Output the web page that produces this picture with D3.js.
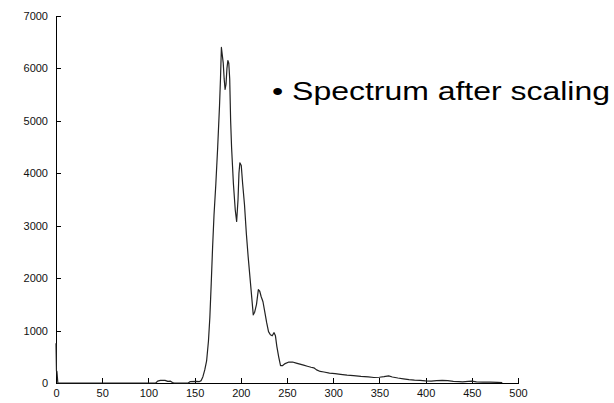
<!DOCTYPE html>
<html>
<head>
<meta charset="utf-8">
<script src="https://cdn.jsdelivr.net/npm/d3@7"></script>
<style>
  html, body { margin: 0; padding: 0; background: #fff; }
  svg { display: block; }
  .axis text { font-family: Arial, "Liberation Sans", sans-serif; font-size: 11px; fill: #111; }
  .axis path, .axis line { stroke: #000; stroke-width: 1; shape-rendering: crispEdges; }
</style>
</head>
<body>
<svg id="chart" width="614" height="403"></svg>
<script>
// Channel positions of the scaled spectrum
const channels = [
  0, 0.5, 1, 2, 108, 110, 113, 118, 121, 124, 126, 128, 143, 145, 152, 155,
  157, 159, 161, 163, 165, 166.5, 168, 169.5, 171, 173, 175, 177, 178, 179,
  180, 181, 182, 183, 184, 185, 186, 187, 188, 189, 190, 192, 194, 195.5,
  197, 198, 199, 200.5, 202, 204, 206, 208, 210, 212, 213.5, 215, 217, 219,
  220.5, 222, 224, 226, 228, 230, 232, 234, 236, 237.5, 239, 241, 243, 245,
  248, 252, 256, 260, 264, 268, 272, 276, 279, 282, 286, 290, 296, 302, 308,
  315, 322, 330, 338, 344, 350, 355, 360, 364, 370, 376, 382, 388, 394, 400,
  406, 412, 418, 424, 430, 436, 440, 446, 450, 455, 462, 470, 478, 483
];
// Counts at each channel
const counts = [
  760, 230, 220, 0, 0, 35, 50, 50, 30, 35, 10, 0, 0, 25, 30, 25,
  45, 120, 250, 420, 800, 1250, 1900, 2600, 3200, 3800, 4500, 5300, 5800, 6400,
  6250, 6100, 5800, 5600, 5700, 6000, 6150, 6100, 5800, 5000, 4500, 3800, 3300, 3080,
  3500, 4000, 4200, 4150, 3800, 3400, 2850, 2400, 2000, 1600, 1300, 1350, 1500, 1780,
  1750, 1650, 1550, 1350, 1150, 980, 920, 900, 960, 900, 700, 500, 330, 330,
  370, 400, 400, 380, 360, 340, 320, 300, 290, 250, 220, 210, 190, 180, 165,
  150, 140, 125, 115, 105, 110, 120, 135, 115, 95, 80, 65, 55, 50, 40,
  35, 45, 50, 45, 30, 25, 20, 30, 35, 20, 15, 15, 12, 10
];
const xTicks = [0, 50, 100, 150, 200, 250, 300, 350, 400, 450, 500];
const yTicks = [0, 1000, 2000, 3000, 4000, 5000, 6000, 7000];
const caption = "• Spectrum after scaling";

const svg = d3.select("#chart");
const x = d3.scaleLinear().domain([0, 500]).range([56, 518]);
const y = d3.scaleLinear().domain([0, 7000]).range([383, 16]);

svg.append("g")
  .attr("class", "axis")
  .attr("transform", "translate(0,383)")
  .call(d3.axisBottom(x).tickValues(xTicks).tickFormat(d3.format("d"))
    .tickSizeInner(-5).tickSizeOuter(0).tickPadding(6));

svg.append("g")
  .attr("class", "axis")
  .attr("transform", "translate(56,0)")
  .call(d3.axisLeft(y).tickValues(yTicks).tickFormat(d3.format("d"))
    .tickSizeInner(-5).tickSizeOuter(0).tickPadding(8));

const pts = channels.map((c, i) => [c, counts[i]]);
svg.append("path")
  .datum(pts)
  .attr("fill", "none")
  .attr("stroke", "#222")
  .attr("stroke-width", 1.2)
  .attr("stroke-linejoin", "round")
  .attr("d", d3.line().x(d => x(d[0])).y(d => y(d[1])));

svg.append("text")
  .attr("x", 272)
  .attr("y", 100)
  .attr("font-family", "Arial, 'Liberation Sans', sans-serif")
  .attr("font-size", 26)
  .attr("textLength", 338)
  .attr("lengthAdjust", "spacingAndGlyphs")
  .attr("fill", "#000")
  .text(caption);
</script>
</body>
</html>
